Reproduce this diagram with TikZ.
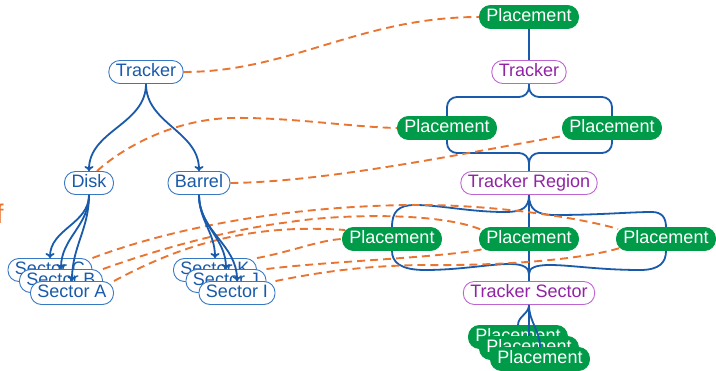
\documentclass[tikz,border=0pt]{standalone}
\usepackage{fontspec}
\setmainfont{Liberation Sans}
\usetikzlibrary{arrows.meta,calc}
\pgfdeclarelayer{bg}
\pgfdeclarelayer{mid}
\pgfdeclarelayer{fg}
\pgfsetlayers{bg,mid,main,fg}
\definecolor{cblue}{RGB}{25,90,170}
\definecolor{cbluebd}{RGB}{55,120,195}
\definecolor{cgreen}{RGB}{0,155,72}
\definecolor{cpurple}{RGB}{145,35,165}
\definecolor{cpurplebd}{RGB}{190,100,210}
\definecolor{corange}{RGB}{232,118,50}
\begin{document}
\begin{tikzpicture}[x=1pt,y=-1pt,
  every node/.style={font=\fontsize{18}{20}\selectfont, text height=13pt, text depth=4pt,
    inner xsep=7pt, inner ysep=0pt, minimum height=23pt, rounded corners=11pt},
  bnode/.style={draw=cbluebd, line width=0.9pt, fill=white, text=cblue},
  pnode/.style={draw=cpurplebd, line width=0.9pt, fill=white, text=cpurple},
  gnode/.style={fill=cgreen, draw=cgreen, line width=0.9pt, text=white},
  bline/.style={draw=cblue, line width=1.8pt},
  barrow/.style={bline, -{To[length=5pt,width=9pt]}},
  dline/.style={draw=corange, line width=1.9pt, dash pattern=on 8pt off 5pt}
]
\useasboundingbox (0,0) rectangle (716,371);

% nodes
\node[bnode] (TL) at (146,72) {Tracker};
\node[bnode] (Disk) at (89,183) {Disk};
\node[bnode] (Barrel) at (199,183) {Barrel};
\node[bnode] (SC) at (50,270) {Sector C};
\node[bnode] (SB) at (61,281) {Sector B};
\node[bnode] (SA) at (72,293) {Sector A};
\node[bnode] (SK) at (215,270) {Sector K};
\node[bnode] (SJ) at (226,281) {Sector J};
\node[bnode] (SI) at (237,293) {Sector I};
\node[gnode] (P0) at (529,17) {Placement};
\node[pnode] (TR1) at (529,72) {Tracker};
\node[gnode] (PUL) at (447,128) {Placement};
\node[gnode] (PUR) at (612,128) {Placement};
\node[pnode] (TReg) at (529,183) {Tracker Region};
\node[gnode] (PLL) at (392,239) {Placement};
\node[gnode] (PLM) at (529,239) {Placement};
\node[gnode] (PLR) at (666,239) {Placement};
\node[pnode] (TSec) at (529,293) {Tracker Sector};
\node[gnode] (PS1) at (518,337) {Placement};
\node[gnode] (PS2) at (529,348) {Placement};
\node[gnode] (PS3) at (540,359) {Placement};
\node[text=corange, anchor=base west, inner sep=0pt, font=\fontsize{27}{29}\selectfont] (lab) at (-4,224) {f};

% braces and tree lines of the right side
\begin{pgfonlayer}{bg}
\draw[bline] (P0.south) -- (TR1.north);
\draw[bline, rounded corners=10pt] (TR1.south) |- (447,97) -- (PUL.north);
\draw[bline, rounded corners=10pt] (TR1.south) |- (612,97) -- (PUR.north);
\draw[bline, rounded corners=10pt] (PUL.south) |- (529,153) -- (TReg.north);
\draw[bline, rounded corners=10pt] (PUR.south) |- (529,153) -- (TReg.north);
\draw[bline] (TReg.south) .. controls (529,208) and (522,212) .. (505,212)
  .. controls (470,212) and (440,205) .. (415,205)
  .. controls (398,205) and (392,212) .. (PLL.north);
\draw[bline] (TReg.south) .. controls (529,209) and (536,215) .. (555,215)
  .. controls (600,215) and (630,212) .. (652,212)
  .. controls (662,212) and (666,218) .. (PLR.north);
\draw[bline] (TReg.south) -- (TSec.north);
\draw[bline] (PLL.south) .. controls (392,262) and (400,270) .. (425,270)
  .. controls (460,270) and (490,264) .. (510,264)
  .. controls (524,264) and (529,268) .. (529,274) -- (TSec.north);
\draw[bline] (PLR.south) .. controls (666,262) and (660,270) .. (640,270)
  .. controls (600,270) and (570,265) .. (550,265)
  .. controls (535,265) and (529,268) .. (529,274) -- (TSec.north);
\end{pgfonlayer}

% dashed links
\begin{pgfonlayer}{mid}
\draw[dline] (TL.east) .. controls (290,72) and (360,17) .. (P0.west);
\draw[dline] ($(Disk.north)+(8,0)$) .. controls (120,150) and (170,120) .. (230,118)
  .. controls (290,117) and (350,127) .. (PUL.west);
\draw[dline] (Barrel.east) .. controls (330,182) and (480,150) .. ($(PUR.west)+(1,8)$);
\draw[dline] (SC.north east) .. controls (180,225) and (300,205) .. (420,205)
  .. controls (500,205) and (585,219) .. ($(PLR.west)+(2,-10)$);
\draw[dline] (SB.north east) .. controls (170,245) and (240,228) .. (290,222)
  .. controls (340,214) and (440,212) .. ($(PLM.west)+(3,-9)$);
\draw[dline] (SA.north east) .. controls (190,240) and (260,224) .. ($(PLL.west)+(3,-9)$);
\draw[dline] (SK.north east) .. controls (290,252) and (320,240) .. (PLL.west);
\draw[dline] (SJ.north east) .. controls (330,261) and (440,258) .. ($(PLM.west)+(5,10)$);
\draw[dline] (SI.north east) .. controls (330,270) and (370,266) .. (420,265)
  .. controls (500,266) and (580,260) .. ($(PLR.west)+(4,9)$);
\end{pgfonlayer}

% arrows of the left tree
\begin{pgfonlayer}{fg}
\draw[barrow] (TL.south) to[out=-90,in=90] (Disk.north);
\draw[barrow] (TL.south) to[out=-90,in=90] (Barrel.north);
\foreach \s in {SC,SB,SA} \draw[barrow] (Disk.south) to[out=-90,in=90] (\s.north);
\foreach \s in {SK,SJ,SI} \draw[barrow] (Barrel.south) to[out=-90,in=90] (\s.north);
\foreach \s in {PS1,PS2,PS3} \draw[bline] (TSec.south) to[out=-90,in=90] (\s.north);
\end{pgfonlayer}
\end{tikzpicture}
\end{document}
